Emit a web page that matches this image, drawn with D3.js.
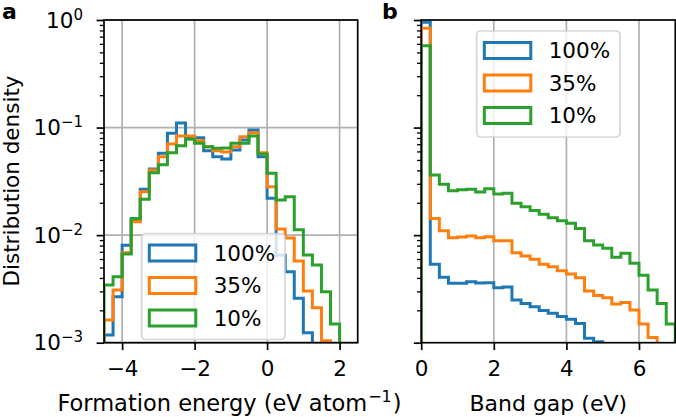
<!DOCTYPE html>
<html>
<head>
<meta charset="utf-8">
<script src="https://cdn.jsdelivr.net/npm/d3@7"></script>
<style>
  body { margin: 0; background: #fff; }
  svg text { font-family: "DejaVu Sans", sans-serif; fill: #000; }
</style>
</head>
<body>
<svg id="chart" width="676" height="417"></svg>
<script>
// Histogram bin edges (eV atom^-1 and eV)
const energyEdges = [-4.5, -4.25, -4.0, -3.75, -3.5, -3.25, -3.0, -2.75, -2.5, -2.25, -2.0, -1.75, -1.5,
  -1.25, -1.0, -0.75, -0.5, -0.25, 0.0, 0.25, 0.5, 0.75, 1.0, 1.25, 1.5, 1.75, 2.0];
const gapEdges = [0, 0.25, 0.5, 0.75, 1, 1.25, 1.5, 1.75, 2, 2.25, 2.5, 2.75, 3, 3.25, 3.5, 3.75, 4,
  4.25, 4.5, 4.75, 5, 5.25, 5.5, 5.75, 6, 6.25, 6.5, 6.75, 7];

const seriesNames = ["100%", "35%", "10%"];
const colors = ["#1f77b4", "#ff7f0e", "#2ca02c"];

// Formation energy densities, one value per bin
const formation100 = [0.00118, 0.00268, 0.00805, 0.0138, 0.0267, 0.0412, 0.0577, 0.0885, 0.110, 0.0822,
  0.0805, 0.061, 0.0536, 0.051, 0.0618, 0.0766, 0.0949, 0.0536, 0.022, 0.0065, 0.00457, 0.00259, 0.00124, 0, 0, 0];
const formation35 = [0.00163, 0.00309, 0.00687, 0.0133, 0.0253, 0.0403, 0.0536, 0.0703, 0.0835, 0.0835,
  0.0755, 0.0664, 0.061, 0.0593, 0.0664, 0.0822, 0.0896, 0.0584, 0.0282, 0.0114, 0.0094, 0.00575, 0.00303, 0.00211, 0.00104, 0];
const formation10 = [0.00344, 0.00411, 0.00668, 0.0143, 0.0215, 0.038, 0.0452, 0.0584, 0.0678, 0.0778,
  0.0714, 0.0664, 0.0642, 0.0645, 0.0714, 0.0714, 0.0835, 0.0568, 0.0376, 0.0212, 0.0228, 0.0112, 0.00653, 0.00527, 0.00298, 0.00149];

// Band gap densities
const bandgap100 = [0.952, 0.00536, 0.00406, 0.00357, 0.00357, 0.00369, 0.00359, 0.00361, 0.00325, 0.0033,
  0.00249, 0.00232, 0.00216, 0.00199, 0.00188, 0.00175, 0.00165, 0.00151, 0.0011, 0.00102, 0, 0, 0, 0, 0, 0, 0, 0];
const bandgap35 = [0.837, 0.0143, 0.011, 0.00946, 0.0096, 0.00982, 0.00946, 0.00967, 0.00888, 0.00888,
  0.00687, 0.0064, 0.00596, 0.00536, 0.00509, 0.00467, 0.00435, 0.00402, 0.00303, 0.00274, 0.00262, 0.00229,
  0.00236, 0.00201, 0.00149, 0.00112, 0, 0];
const bandgap10 = [0.577, 0.0362, 0.0297, 0.0259, 0.0264, 0.0267, 0.0252, 0.027, 0.0241, 0.0245,
  0.0198, 0.0184, 0.0169, 0.0156, 0.0145, 0.0136, 0.0129, 0.0115, 0.00888, 0.0081, 0.00755, 0.00622,
  0.00678, 0.00547, 0.00423, 0.00309, 0.00232, 0.00149];

const energyTicks = [-4, -2, 0, 2];
const gapTicks = [0, 2, 4, 6];
const yMajor = [1e-3, 1e-2, 1e-1, 1];

const svg = d3.select("#chart");
const plotTop = 20, plotBottom = 342.7;
const tickFont = 21.5;

const y = d3.scaleLog().domain([1e-3, 1]).range([plotBottom, plotTop]);
const xa = d3.scaleLinear().domain([-4.5, 2.5]).range([104, 357.7]);
const xb = d3.scaleLinear().domain([0, 7]).range([421.2, 675.3]);

const yMinor = y.ticks().filter(v => !yMajor.some(m => Math.abs(m - v) < 1e-12));
const fmt = d => d < 0 ? "\u2212" + Math.abs(d) : String(d);

function stepPath(x, edges, vals) {
  const floor = 1e-6; // empty bins fall below the axis and get clipped
  const p = d3.path();
  p.moveTo(x(edges[0]), y(floor));
  vals.forEach((v, i) => {
    const yy = y(Math.max(v, floor));
    p.lineTo(x(edges[i]), yy);
    p.lineTo(x(edges[i + 1]), yy);
  });
  p.lineTo(x(edges[edges.length - 1]), y(floor));
  return p.toString();
}

function drawPanel(id, x, edges, data, ticks, hGrid) {
  const [x0, x1] = x.range();
  const g = svg.append("g");

  svg.append("clipPath").attr("id", "clip-" + id)
    .append("rect").attr("x", x0).attr("y", plotTop).attr("width", x1 - x0).attr("height", plotBottom - plotTop);

  // grid
  g.selectAll("line.vgrid").data(ticks).enter().append("line")
    .attr("x1", d => x(d)).attr("x2", d => x(d)).attr("y1", plotTop).attr("y2", plotBottom)
    .attr("stroke", "#b0b0b0").attr("stroke-width", 1.7);
  if (hGrid) {
    g.selectAll("line.hgrid").data(yMajor).enter().append("line")
      .attr("x1", x0).attr("x2", x1).attr("y1", d => y(d)).attr("y2", d => y(d))
      .attr("stroke", "#b0b0b0").attr("stroke-width", 1.7);
  }

  // step histograms
  g.append("g").attr("clip-path", `url(#clip-${id})`)
    .selectAll("path").data(data).enter().append("path")
    .attr("d", d => stepPath(x, edges, d))
    .attr("fill", "none")
    .attr("stroke", (d, i) => colors[i])
    .attr("stroke-width", 3)
    .attr("stroke-linejoin", "miter");

  // x axis ticks
  const xAxis = g.append("g").attr("transform", `translate(0,${plotBottom})`)
    .call(d3.axisBottom(x).tickValues(ticks).tickSize(7.4).tickPadding(11).tickFormat(fmt));
  xAxis.select(".domain").remove();
  xAxis.selectAll("line").attr("stroke", "#000").attr("stroke-width", 1.7);
  xAxis.selectAll("text").attr("font-size", tickFont).attr("font-family", "DejaVu Sans");

  // y axis ticks (major + minor)
  const yAxis = g.append("g").attr("transform", `translate(${x0},0)`)
    .call(d3.axisLeft(y).tickValues(yMajor).tickSize(7.4).tickFormat(""));
  yAxis.select(".domain").remove();
  yAxis.selectAll("line").attr("stroke", "#000").attr("stroke-width", 1.7);
  const yMin = g.append("g").attr("transform", `translate(${x0},0)`)
    .call(d3.axisLeft(y).tickValues(yMinor).tickSize(4.2).tickFormat(""));
  yMin.select(".domain").remove();
  yMin.selectAll("line").attr("stroke", "#000").attr("stroke-width", 1.3);

  // spines
  g.append("rect").attr("x", x0).attr("y", plotTop).attr("width", x1 - x0).attr("height", plotBottom - plotTop)
    .attr("fill", "none").attr("stroke", "#000").attr("stroke-width", 1.7);
  return g;
}

drawPanel("a", xa, energyEdges, [formation100, formation35, formation10], energyTicks, true);
drawPanel("b", xb, gapEdges, [bandgap100, bandgap35, bandgap10], gapTicks, false);

// y tick labels 10^k
yMajor.forEach(v => {
  const k = Math.round(Math.log10(v));
  const t = svg.append("text").attr("x", 83).attr("y", y(v) + 7.6)
    .attr("text-anchor", "end").attr("font-size", tickFont);
  t.append("tspan").text("10");
  t.append("tspan").attr("font-size", 15).attr("dy", -8).text(k < 0 ? "\u2212" + (-k) : String(k));
});

// axis labels
svg.append("text").attr("transform", `translate(19,181) rotate(-90)`)
  .attr("text-anchor", "middle").attr("font-size", 21.5).text("Distribution density");

const xl = svg.append("text").attr("x", 229.5).attr("y", 410.5)
  .attr("text-anchor", "middle").attr("font-size", 22.5);
xl.append("tspan").text("Formation energy (eV atom");
xl.append("tspan").attr("font-size", 16).attr("dx", 1).attr("dy", -8.5).text("\u22121");
xl.append("tspan").attr("dx", 1).attr("dy", 8.5).text(")");

svg.append("text").attr("x", (xb.range()[0] + xb.range()[1]) / 2).attr("y", 410.5)
  .attr("text-anchor", "middle").attr("font-size", 22).text("Band gap (eV)");

// panel letters
svg.append("text").attr("x", 2).attr("y", 18.5).attr("font-size", 22).attr("font-weight", "bold").text("a");
svg.append("text").attr("x", 382).attr("y", 18.5).attr("font-size", 22).attr("font-weight", "bold").text("b");

// legends
function legend(lx, ly) {
  const g = svg.append("g");
  g.append("rect").attr("x", lx).attr("y", ly).attr("width", 143.3).attr("height", 106).attr("rx", 4)
    .attr("fill", "#fff").attr("fill-opacity", 0.8)
    .attr("stroke", "#cccccc").attr("stroke-opacity", 0.8).attr("stroke-width", 1.7);
  seriesNames.forEach((name, i) => {
    const ry = ly + 11.5 + i * 32.5;
    g.append("rect").attr("x", lx + 7.6).attr("y", ry).attr("width", 46.5).attr("height", 16)
      .attr("fill", "none").attr("stroke", colors[i]).attr("stroke-width", 3);
    g.append("text").attr("x", lx + 72).attr("y", ry + 15.5).attr("font-size", 21.5).text(name);
  });
}
legend(141.7, 233.5);
legend(476.7, 31);
</script>
</body>
</html>
